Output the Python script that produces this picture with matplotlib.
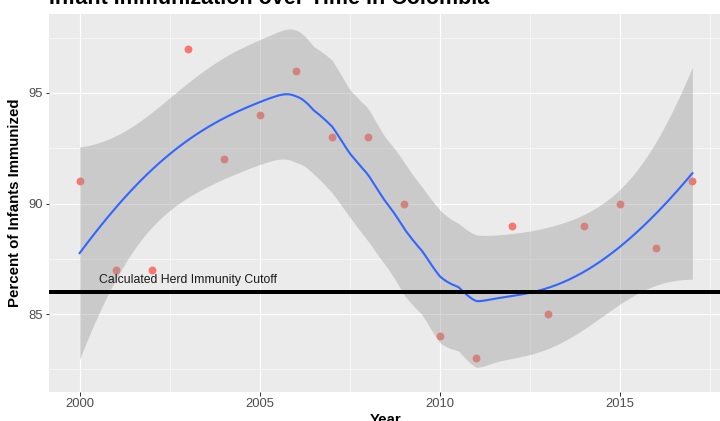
import numpy as np
import matplotlib
matplotlib.use("Agg")
import matplotlib.pyplot as plt

# Infant immunization coverage in Colombia
years = [2000, 2001, 2002, 2003, 2004, 2005, 2006, 2007, 2008,
         2009, 2010, 2011, 2012, 2013, 2014, 2015, 2016, 2017]
percent = [91, 87, 87, 97, 92, 94, 96, 93, 93,
           90, 84, 83, 89, 85, 89, 90, 88, 91]
herd_cutoff = 86
cutoff_label = "Calculated Herd Immunity Cutoff"
x_ticks = [2000, 2005, 2010, 2015]
y_ticks = [85, 90, 95]


def loess_row(x, x0, span=0.75, degree=2):
    # row of the smoother matrix at x0 (local quadratic, tricube weights)
    n = len(x)
    q = int(np.floor(span * n))
    d = np.abs(x - x0)
    h = np.sort(d)[q - 1]
    u = np.clip(d / h, 0, 1)
    w = (1 - u ** 3) ** 3
    X = np.vander(x - x0, degree + 1, increasing=True)
    XtW = X.T * w
    A = np.linalg.solve(XtW @ X, XtW)
    return A[0]


def t_quantile(p, df):
    # quantile of Student t by bisection on a numeric cdf
    full = np.linspace(0, 200, 200001)
    norm = np.trapezoid((1 + full ** 2 / df) ** (-(df + 1) / 2), full)
    def cdf(t):
        g = np.linspace(0, t, 4001)
        pdf = (1 + g ** 2 / df) ** (-(df + 1) / 2)
        return 0.5 + 0.5 * np.trapezoid(pdf, g) / norm
    lo, hi = 0.0, 20.0
    for _ in range(60):
        mid = (lo + hi) / 2
        if cdf(mid) < p:
            lo = mid
        else:
            hi = mid
    return (lo + hi) / 2


xs = np.array(years, dtype=float)
ys = np.array(percent, dtype=float)
n = len(xs)
L = np.array([loess_row(xs, xi) for xi in xs])
resid = ys - L @ ys
M = (np.eye(n) - L).T @ (np.eye(n) - L)
delta1 = np.trace(M)
delta2 = np.trace(M @ M)
sigma = np.sqrt(np.sum(resid ** 2) / delta1)
tq = t_quantile(0.975, delta1 ** 2 / delta2)

grid = np.linspace(xs.min(), xs.max(), 200)
rows = np.array([loess_row(xs, g) for g in grid])
fit = rows @ ys
se = sigma * np.sqrt(np.sum(rows ** 2, axis=1))
lower = fit - tq * se
upper = fit + tq * se

plt.rcParams['font.family'] = ['Liberation Sans', 'DejaVu Sans']

fig = plt.figure(figsize=(10, 421 / 72), dpi=72)
ax = fig.add_axes([49 / 720, 29.5 / 421, 674 / 720, 377.7 / 421])
ax.set_facecolor('#EBEBEB')

ax.scatter(years, percent, s=62, color='#F8766D', linewidths=0, zorder=3)
ax.fill_between(grid, lower, upper, color='#999999', alpha=0.4, linewidth=0, zorder=4)
ax.plot(grid, fit, color='#3366FF', linewidth=2.1, zorder=5)
ax.axhline(herd_cutoff, color='black', linewidth=4, zorder=6)
ax.text(2003, herd_cutoff + 0.55, cutoff_label, ha='center', va='center',
        fontsize=12.3, color='#1A1A1A', zorder=7)

ax.set_xlim(1999.15, 2017.85)
ax.set_ylim(81.5, 98.58)
ax.set_xticks(x_ticks)
ax.set_yticks(y_ticks)
ax.set_xticks([2002.5, 2007.5, 2012.5, 2017.5], minor=True)
ax.set_yticks([82.5, 87.5, 92.5, 97.5], minor=True)
ax.grid(which='major', color='white', linewidth=1.1, zorder=0)
ax.grid(which='minor', color='white', linewidth=0.55, zorder=0)
ax.set_axisbelow(True)
for s in ax.spines.values():
    s.set_visible(False)
ax.tick_params(which='major', length=3.5, width=1, color='#333333',
               labelsize=13, labelcolor='#4D4D4D', pad=3)
ax.tick_params(which='minor', length=0)

ax.set_xlabel('Year', fontsize=15, fontweight='bold', labelpad=3)
ax.set_ylabel('Percent of Infants Immunized', fontsize=15, fontweight='bold', labelpad=6)
fig.text(49 / 720, 1 - 4 / 421, 'Infant Immunization over Time in Colombia',
         ha='left', va='baseline', fontsize=21.5, fontweight='bold')

fig.savefig('out.png', dpi=72)
